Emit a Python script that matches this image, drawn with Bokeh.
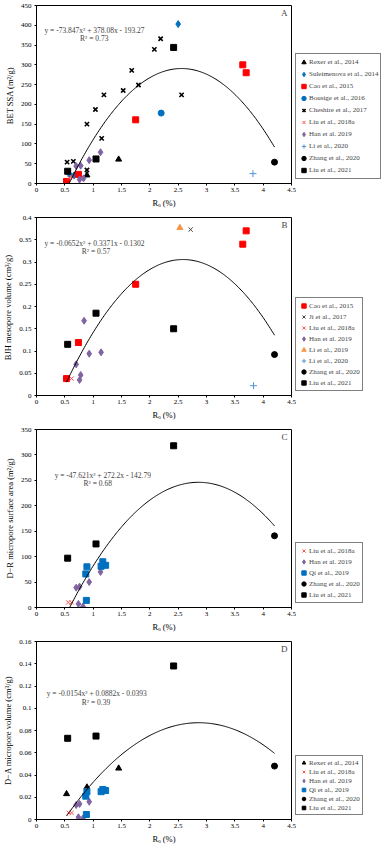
import numpy as np
from bokeh.plotting import figure
from bokeh.models import (Range1d, FixedTicker, CustomJSTickFormatter, Legend,
                          LegendItem, Label)
from bokeh.layouts import column
from bokeh.embed import file_html
from bokeh.resources import INLINE

FONT = "Liberation Serif"

# ---------------- data ----------------
x_ticks = [0, 0.5, 1, 1.5, 2, 2.5, 3, 3.5, 4, 4.5]

# Panel A: BET SSA (m2/g)
a_rexer_x = [0.89, 1.45]
a_rexer_y = [21, 61]
a_sulei_x = [0.58, 0.66, 2.50]
a_sulei_y = [24, 20, 403]
a_cao_x = [0.53, 0.74, 1.75, 3.64, 3.70]
a_cao_y = [5, 23, 161, 300, 280]
a_bousige_x = [2.20]
a_bousige_y = [178]
a_cheshire_x = [0.54, 0.65, 0.89, 0.89, 1.04, 1.15, 1.19, 1.53, 1.68, 1.80, 2.08, 2.19, 2.56]
a_cheshire_y = [54, 56, 34, 150, 187, 114, 224, 235, 286, 249, 339, 366, 224]
a_liu18_x = [0.58, 0.62]
a_liu18_y = [14, 17]
a_han_x = [0.70, 0.76, 0.78, 0.83, 0.93, 1.13]
a_han_y = [44, 10, 45, 13, 59, 79]
a_li20_x = [3.82]
a_li20_y = [25]
a_zhang_x = [4.20]
a_zhang_y = [54]
a_liu21_x = [0.55, 1.05, 2.42]
a_liu21_y = [31, 62, 344]
a_fit = [-73.847, 378.08, -193.27]

# Panel B: BJH mesopore volume (cm3/g)
b_cao_x = [0.53, 0.74, 1.75, 3.64, 3.70]
b_cao_y = [0.038, 0.119, 0.250, 0.340, 0.370]
b_ji_x = [2.72]
b_ji_y = [0.373]
b_liu18_x = [0.62]
b_liu18_y = [0.038]
b_han_x = [0.70, 0.76, 0.78, 0.84, 0.93, 1.14]
b_han_y = [0.070, 0.035, 0.046, 0.168, 0.094, 0.097]
b_li19_x = [2.53]
b_li19_y = [0.377]
b_li20_x = [3.83]
b_li20_y = [0.022]
b_zhang_x = [4.20]
b_zhang_y = [0.092]
b_liu21_x = [0.55, 1.05, 2.42]
b_liu21_y = [0.115, 0.185, 0.150]
b_fit = [-0.0652, 0.3371, -0.1302]

# Panel C: D-R micropore surface area (m2/g)
c_liu18_x = [0.56, 0.62]
c_liu18_y = [10, 10]
c_han_x = [0.70, 0.76, 0.74, 0.82, 0.93, 1.13]
c_han_y = [39, 41, 7, 2, 50, 70]
c_qi_x = [0.87, 0.89, 0.88, 1.14, 1.17, 1.22]
c_qi_y = [66, 80, 14, 81, 90, 83]
c_zhang_x = [4.20]
c_zhang_y = [141]
c_liu21_x = [0.55, 1.05, 2.42]
c_liu21_y = [97, 125, 318]
c_fit = [-47.621, 272.2, -142.79]

# Panel D: D-A micropore volume (cm3/g)
d_rexer_x = [0.53, 0.89, 1.45]
d_rexer_y = [0.023, 0.029, 0.046]
d_liu18_x = [0.57, 0.62]
d_liu18_y = [0.006, 0.006]
d_han_x = [0.70, 0.76, 0.74, 0.82, 0.93]
d_han_y = [0.013, 0.014, 0.002, 0.001, 0.016]
d_qi_x = [0.88, 0.87, 0.89, 1.14, 1.17, 1.22]
d_qi_y = [0.0045, 0.021, 0.025, 0.025, 0.027, 0.026]
d_zhang_x = [4.20]
d_zhang_y = [0.048]
d_liu21_x = [0.55, 1.05, 2.42]
d_liu21_y = [0.073, 0.075, 0.138]
d_fit = [-0.0154, 0.0882, -0.0393]

fit_x_range = [0.53, 4.2]

# ---------------- styles ----------------
STYLE = {
    "Rexer et al., 2014": ("triangle", "black", 6, 1),
    "Suleimenova et al., 2014": ("diamond", "#0070C0", 7, 1),
    "Cao et al., 2015": ("square", "#FF0000", 6, 1),
    "Bousige et al., 2016": ("circle", "#0070C0", 6, 1),
    "Cheshire et al., 2017": ("x", "black", 6, 1.6),
    "Ji et al., 2017": ("x", "#404040", 6, 1),
    "Liu et al., 2018a": ("x", "#FF5050", 6, 1),
    "Han et al. 2019": ("diamond", "#8064A2", 7, 1),
    "Li et al., 2019": ("triangle", "#F79646", 6, 1),
    "Qi et al., 2019": ("square", "#0070C0", 6, 1),
    "Li et al., 2020": ("cross", "#4F94E0", 7, 1),
    "Zhang et al., 2020": ("circle", "black", 6, 1),
    "Liu et al., 2021": ("square", "black", 6, 1),
}

fmt = CustomJSTickFormatter(code="return String(Math.round(tick*10000)/10000);")


def make_panel(series, ymax, ystep, ylabel, letter, coef, eq, r2, eq_xy, r2_xy,
               glyph_h):
    p = figure(frame_width=255, frame_height=178,
               x_range=Range1d(0, 4.5), y_range=Range1d(0, ymax),
               output_backend="svg", toolbar_location=None,
               min_border_left=31, min_border_top=5, min_border_bottom=29,
               min_border_right=0, background_fill_color="white")
    p.xgrid.visible = False
    p.ygrid.visible = False
    p.outline_line_color = "black"
    p.outline_line_width = 1

    n = int(round(ymax / ystep))
    yt = [round(i * ystep, 6) for i in range(n + 1)]
    p.xaxis.ticker = FixedTicker(ticks=x_ticks)
    p.yaxis.ticker = FixedTicker(ticks=yt)
    for ax in (p.xaxis[0], p.yaxis[0]):
        ax.formatter = fmt
        ax.major_label_text_font = FONT
        ax.major_label_text_font_size = "7px"
        ax.major_label_text_color = "black"
        ax.axis_label_text_font = FONT
        ax.axis_label_text_font_size = "8.5px"
        ax.axis_label_text_font_style = "normal"
        ax.axis_label_text_color = "black"
        ax.minor_tick_line_color = None
        ax.major_tick_in = 0
        ax.major_tick_out = 2
        ax.major_tick_line_color = "black"
        ax.axis_line_color = "black"
        ax.axis_label_standoff = 3
    p.xaxis.major_label_standoff = 2
    p.yaxis.major_label_standoff = 3
    p.xaxis.axis_label = "R\u2092 (%)"
    p.yaxis.axis_label = ylabel

    items = []
    for name, xv, yv in series:
        m, c, s, lw = STYLE[name]
        if m in ("x", "cross"):
            r = p.scatter(xv, yv, marker=m, size=s, line_color=c, line_width=lw)
        else:
            r = p.scatter(xv, yv, marker=m, size=s, fill_color=c, line_color=c)
        items.append(LegendItem(label=name, renderers=[r]))

    xs = np.linspace(fit_x_range[0], fit_x_range[1], 200)
    ys = np.polyval(coef, xs)
    p.line(xs, ys, line_color="black", line_width=1)

    p.add_layout(Label(x=eq_xy[0], y=eq_xy[1], text=eq, text_font=FONT,
                       text_font_size="7.5px", text_baseline="middle",
                       text_align="left"))
    p.add_layout(Label(x=r2_xy[0], y=r2_xy[1], text=r2, text_font=FONT,
                       text_font_size="7.5px", text_baseline="middle",
                       text_align="center"))
    p.add_layout(Label(x=4.43, y=ymax * 0.985, text=letter, text_font=FONT,
                       text_font_size="9px", text_baseline="top",
                       text_align="right"))

    leg = Legend(items=items, location="bottom_left")
    leg.label_text_font = FONT
    leg.label_text_font_size = "7px"
    leg.label_height = 8
    leg.glyph_height = glyph_h
    leg.glyph_width = 11
    leg.spacing = 0
    leg.padding = 2
    leg.margin = 4
    leg.label_standoff = 0
    leg.border_line_color = "black"
    leg.border_line_width = 0.8
    p.add_layout(leg, "right")
    return p


pA = make_panel(
    [("Rexer et al., 2014", a_rexer_x, a_rexer_y),
     ("Suleimenova et al., 2014", a_sulei_x, a_sulei_y),
     ("Cao et al., 2015", a_cao_x, a_cao_y),
     ("Bousige et al., 2016", a_bousige_x, a_bousige_y),
     ("Cheshire et al., 2017", a_cheshire_x, a_cheshire_y),
     ("Liu et al., 2018a", a_liu18_x, a_liu18_y),
     ("Han et al. 2019", a_han_x, a_han_y),
     ("Li et al., 2020", a_li20_x, a_li20_y),
     ("Zhang et al., 2020", a_zhang_x, a_zhang_y),
     ("Liu et al., 2021", a_liu21_x, a_liu21_y)],
    450, 50, "BET SSA  (m\u00b2/g)", "A", a_fit,
    "y = -73.847x\u00b2 + 378.08x - 193.27", "R\u00b2 = 0.73",
    (0.14, 388), (1.02, 366), 12)

pB = make_panel(
    [("Cao et al., 2015", b_cao_x, b_cao_y),
     ("Ji et al., 2017", b_ji_x, b_ji_y),
     ("Liu et al., 2018a", b_liu18_x, b_liu18_y),
     ("Han et al. 2019", b_han_x, b_han_y),
     ("Li et al., 2019", b_li19_x, b_li19_y),
     ("Li et al., 2020", b_li20_x, b_li20_y),
     ("Zhang et al., 2020", b_zhang_x, b_zhang_y),
     ("Liu et al., 2021", b_liu21_x, b_liu21_y)],
    0.4, 0.05, "BJH mesopore volume  (cm\u00b3/g)", "B", b_fit,
    "y = -0.0652x\u00b2 + 0.3371x - 0.1302", "R\u00b2 = 0.57",
    (0.14, 0.341), (1.05, 0.324), 11)

pC = make_panel(
    [("Liu et al., 2018a", c_liu18_x, c_liu18_y),
     ("Han et al. 2019", c_han_x, c_han_y),
     ("Qi et al., 2019", c_qi_x, c_qi_y),
     ("Zhang et al., 2020", c_zhang_x, c_zhang_y),
     ("Liu et al., 2021", c_liu21_x, c_liu21_y)],
    350, 50, "D\u2212R micropore surface area (m\u00b2/g)", "C", c_fit,
    "y = -47.621x\u00b2 + 272.2x - 142.79", "R\u00b2 = 0.68",
    (0.32, 259), (1.08, 243), 11)

pD = make_panel(
    [("Rexer et al., 2014", d_rexer_x, d_rexer_y),
     ("Liu et al., 2018a", d_liu18_x, d_liu18_y),
     ("Han et al. 2019", d_han_x, d_han_y),
     ("Qi et al., 2019", d_qi_x, d_qi_y),
     ("Zhang et al., 2020", d_zhang_x, d_zhang_y),
     ("Liu et al., 2021", d_liu21_x, d_liu21_y)],
    0.16, 0.02, "D\u2212A micropore volume (cm\u00b3/g)", "D", d_fit,
    "y = -0.0154x\u00b2 + 0.0882x - 0.0393", "R\u00b2 = 0.39",
    (0.18, 0.1132), (1.05, 0.1054), 9)

layout = column(pA, pB, pC, pD, spacing=0)
open("out.html", "w").write(file_html(layout, INLINE))
